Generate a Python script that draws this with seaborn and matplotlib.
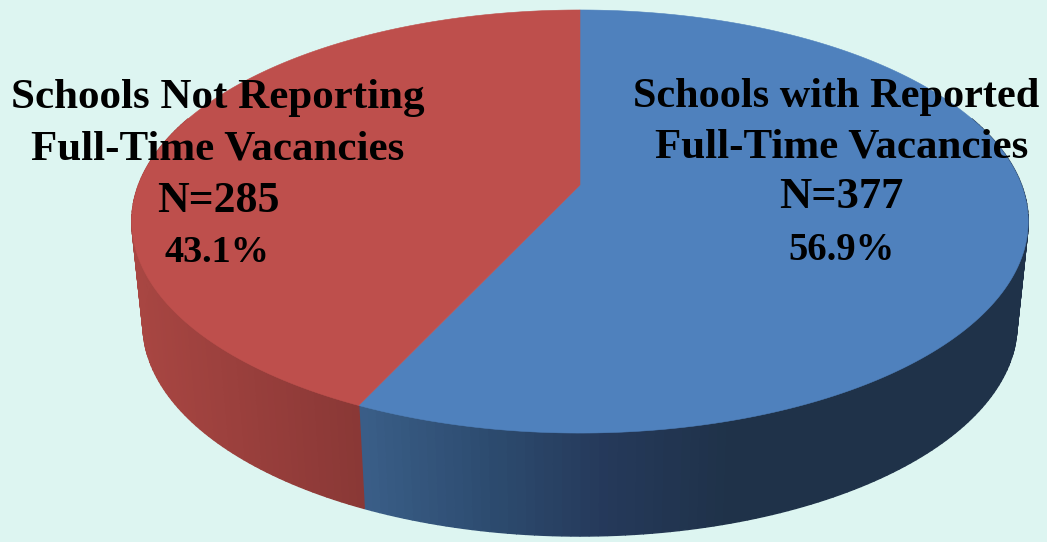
"""
Schools reporting full-time vacancies, drawn as a tilted 3D-looking pie
"""

import numpy as np
import matplotlib.pyplot as plt
import seaborn as sns

# Data
categories = ['Schools with Reported', 'Schools Not Reporting']
second_line = ['Full-Time Vacancies', 'Full-Time Vacancies']
counts = [377, 285]
shares = [56.9, 43.1]

sns.set_theme(style="white")
plt.rcParams['font.family'] = ['Liberation Serif', 'DejaVu Serif']

bg = '#DDF5F1'
top_colors = ['#4F81BD', '#BE4F4C']
blue_side = sns.blend_palette(['#3A5E88', '#2D4C70', '#25395A', '#1F3249', '#1F3249'], 100)
red_side = sns.blend_palette(['#A84642', '#8A3836'], 100)

# Projection of the pie disc onto the page (axes are in pixels)
cx, cy = 580, 185
radius = 441.5
persp = -0.1726
y_near = 173.3
depth = 103
shrink = 0.975


def rim(theta):
    # theta is clockwise from 12 o'clock
    u, v = np.sin(theta), -np.cos(theta)
    d = 1 + persp * v
    return cx + radius * u / d, (y_near * v + cy) / d


fig = plt.figure(figsize=(10.47, 5.42), dpi=100, facecolor=bg)
ax = fig.add_axes([0, 0, 1, 1])
ax.set_xlim(0, 1047)
ax.set_ylim(542, 0)
ax.axis('off')

fractions = np.array(counts) / sum(counts)
edges = np.concatenate([[0], np.cumsum(fractions)]) * 2 * np.pi

# Side wall, strip by strip so the shading can run along it
strip_edges = np.radians(np.linspace(70, 290, 221))
for t0, t1 in zip(strip_edges[:-1], strip_edges[1:]):
    mid = (t0 + t1) / 2
    in_blue = mid < edges[1]
    ts = np.array([t0, t1])
    if in_blue:
        ts = np.clip(ts, None, edges[1])
    else:
        ts = np.clip(ts, edges[1], None)
    x, y = rim(ts)
    bx = cx + (x - cx) * shrink
    by = y + depth
    px = np.concatenate([x, bx[::-1]])
    py = np.concatenate([y, by[::-1]])
    if in_blue:
        frac = np.clip((x.mean() - 357) / 500, 0, 0.99)
        col = blue_side[int(frac * 100)]
    else:
        frac = np.clip((x.mean() - 131) / 226, 0, 0.99)
        col = red_side[int(frac * 100)]
    ax.fill(px, py, color=col, lw=1.0, zorder=2)

# Top face
for i in range(len(counts)):
    ts = np.linspace(edges[i], edges[i + 1], 300)
    x, y = rim(ts)
    ax.fill(np.r_[cx, x], np.r_[cy, y], color=top_colors[i], lw=0.4, zorder=3)

# Labels, one text per line, placed on their baselines
line_x = [[836, 842, 841, 841], [218, 218, 218, 217]]
line_y = [[107, 157, 208, 260], [108, 160, 212, 262]]
line_size = [[30.4, 31, 32, 27.8], [31, 31, 31.5, 27.5]]
for i in range(len(counts)):
    lines = [categories[i], second_line[i], f'N={counts[i]}', f'{shares[i]}%']
    for txt, tx, ty, size in zip(lines, line_x[i], line_y[i], line_size[i]):
        ax.text(tx, ty, txt, ha='center', va='baseline', fontsize=size,
                fontweight='bold', color='black', zorder=5)

fig.savefig('out.png', dpi=100, facecolor=bg)
